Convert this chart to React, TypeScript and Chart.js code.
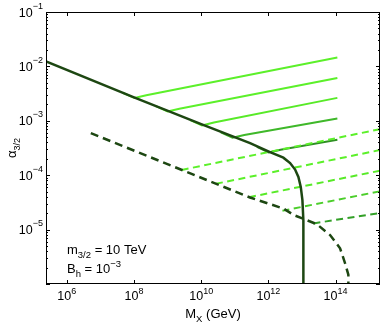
import React, { useEffect, useRef } from 'react';
import { Chart, registerables } from 'chart.js';

Chart.register(...registerables);

// ---- axis ranges and ticks ----
const X_MIN = 2.4e5;
const X_MAX = 2.1e15;
const Y_MIN = 1e-6;
const Y_MAX = 1e-1;
const xTickValues = [1e6, 1e8, 1e10, 1e12, 1e14];
const xTickExponents = ['6', '8', '10', '12', '14'];
const yTickValues = [1e-1, 1e-2, 1e-3, 1e-4, 1e-5];
const yTickExponents = ['\u22121', '\u22122', '\u22123', '\u22124', '\u22125'];
const yMinorMultipliers = [2, 3, 4, 5, 6, 7, 8, 9];
const yDecadeExponents = [-6, -5, -4, -3, -2];

// ---- series (M_X, alpha_3/2) ----
const boundarySolid: [number, number][] = [
  [2.4e5, 1.24e-2], [1e8, 2.7e-3], [1e10, 8.7e-4], [2.85e11, 3.89e-4], [1.12e12, 2.66e-4],
  [2.79e12, 2.1e-4], [4.43e12, 1.67e-4], [6.24e12, 1.27e-4], [7.82e12, 9.27e-5],
  [9.2e12, 6.08e-5], [1.03e13, 3.47e-5], [1.1e13, 1.49e-5], [1.1e13, 1e-6],
];
const boundaryDashed: [number, number][] = [
  [5.18e6, 5.93e-4], [2.85e11, 3.89e-5], [2.79e12, 2.44e-5], [5.82e12, 1.84e-5],
  [2.75e13, 1.26e-5], [6.86e13, 7.94e-6], [1.36e14, 4.53e-6], [1.92e14, 2.4e-6],
  [2.4e14, 1.48e-6], [2.4e14, 1e-6],
];
const solid1: [number, number][] = [[4.62e7, 3.28e-3], [1.035e8, 2.62e-3], [2.32e8, 2.96e-3], [1.13e14, 1.46e-2]];
const solid2: [number, number][] = [[4.48e8, 1.86e-3], [1.0e9, 1.49e-3], [2.24e9, 1.67e-3], [1.13e14, 6.14e-3]];
const solid3: [number, number][] = [[4.74e9, 1.03e-3], [1.06e10, 8.24e-4], [2.38e10, 9.31e-4], [1.13e14, 2.64e-3]];
const solid4: [number, number][] = [[3.83e10, 6.11e-4], [8.57e10, 4.89e-4], [1.92e11, 5.46e-4], [1.13e14, 1.1e-3]];
const solid5: [number, number][] = [[4.57e11, 3.33e-4], [1.02e12, 2.62e-4], [2.29e12, 2.93e-4], [1.13e14, 4.49e-4]];
const dashed1: [number, number][] = [[2.62e9, 1.25e-4], [2.1e15, 7.02e-4]];
const dashed2: [number, number][] = [[2.74e10, 6.95e-5], [2.1e15, 2.9e-4]];
const dashed3: [number, number][] = [[2.65e11, 3.94e-5], [2.1e15, 1.21e-4]];
const dashed4: [number, number][] = [[2.62e12, 2.22e-5], [2.1e15, 5.06e-5]];
const dashed5: [number, number][] = [[2.19e13, 1.3e-5], [2.1e15, 2.02e-5]];

const solidGreens = [solid1, solid2, solid3, solid4, solid5];
const dashedGreens = [dashed1, dashed2, dashed3, dashed4, dashed5];
const solidColors = ['#5cf02a', '#5cf02a', '#58ea28', '#3fb82a', '#2f8f24'];
const dashedColors = ['#5cf02a', '#5cf02a', '#58ea28', '#4cce2b', '#33a028'];
const DARK = '#1d4712';

const FONT = '"Liberation Sans", Arial, Helvetica, sans-serif';
const f = (s: number) => `${s}px ${FONT}`;

const toPts = (arr: [number, number][]) => arr.map(([x, y]) => ({ x, y }));

const framePlugin = {
  id: 'frame',
  afterDatasetsDraw(chart: any) {
    const { ctx, chartArea: a, scales } = chart;
    const xs = scales.x;
    const ys = scales.y;
    ctx.save();
    ctx.strokeStyle = '#000';
    ctx.lineWidth = 1;
    ctx.strokeRect(a.left + 0.5, a.top + 0.5, a.right - a.left - 1, a.bottom - a.top - 1);
    ctx.beginPath();
    for (const v of xTickValues) {
      const px = Math.round(xs.getPixelForValue(v)) + 0.5;
      ctx.moveTo(px, a.bottom);
      ctx.lineTo(px, a.bottom - 4);
      ctx.moveTo(px, a.top);
      ctx.lineTo(px, a.top + 4);
    }
    for (const e of yDecadeExponents) {
      for (const m of [1, ...yMinorMultipliers]) {
        const v = m * Math.pow(10, e);
        if (v < Y_MIN * 0.999 || v > Y_MAX * 1.001) continue;
        const py = Math.round(ys.getPixelForValue(v)) + 0.5;
        const len = m === 1 ? 4 : 2;
        ctx.moveTo(a.left, py);
        ctx.lineTo(a.left + len, py);
        ctx.moveTo(a.right, py);
        ctx.lineTo(a.right - len, py);
      }
    }
    ctx.stroke();

    ctx.fillStyle = '#000';
    ctx.textBaseline = 'alphabetic';
    ctx.textAlign = 'left';
    // x tick labels
    xTickValues.forEach((v, i) => {
      const px = xs.getPixelForValue(v);
      ctx.font = f(12.5);
      const wb = ctx.measureText('10').width;
      ctx.font = f(9);
      const we = ctx.measureText(xTickExponents[i]).width;
      const x0 = px - (wb + we) / 2;
      ctx.font = f(12.5);
      ctx.fillText('10', x0, a.bottom + 16);
      ctx.font = f(9);
      ctx.fillText(xTickExponents[i], x0 + wb, a.bottom + 10);
    });
    // y tick labels
    yTickValues.forEach((v, i) => {
      const py = ys.getPixelForValue(v);
      const right = a.left - 3;
      ctx.font = f(9);
      const we = ctx.measureText(yTickExponents[i]).width;
      ctx.font = f(12.5);
      const wb = ctx.measureText('10').width;
      ctx.fillText('10', right - we - wb, py + 4.5);
      ctx.font = f(9);
      ctx.fillText(yTickExponents[i], right - we, py - 3.5);
    });
    // x title
    {
      ctx.font = f(13);
      const wM = ctx.measureText('M').width;
      const wRest = ctx.measureText(' (GeV)').width;
      ctx.font = f(9.5);
      const wX = ctx.measureText('X').width;
      const total = wM + wX + wRest;
      const x0 = (a.left + a.right) / 2 - total / 2;
      ctx.font = f(13);
      ctx.fillText('M', x0, 318);
      ctx.font = f(9.5);
      ctx.fillText('X', x0 + wM, 322);
      ctx.font = f(13);
      ctx.fillText(' (GeV)', x0 + wM + wX, 318);
    }
    // y title
    {
      ctx.save();
      ctx.translate(16, 158);
      ctx.rotate(-Math.PI / 2);
      ctx.font = f(13);
      ctx.fillText('\u03b1', 0, 0);
      const wa = ctx.measureText('\u03b1').width;
      ctx.font = f(9);
      ctx.fillText('3/2', wa, 3.5);
      ctx.restore();
    }
    // annotations
    {
      let x = 67;
      ctx.font = f(13);
      ctx.fillText('m', x, 254);
      x += ctx.measureText('m').width;
      ctx.font = f(9.5);
      ctx.fillText('3/2', x, 258);
      x += ctx.measureText('3/2').width;
      ctx.font = f(13);
      ctx.fillText(' = 10 TeV', x, 254);

      x = 67;
      ctx.fillText('B', x, 273);
      x += ctx.measureText('B').width;
      ctx.font = f(9.5);
      ctx.fillText('h', x, 277);
      x += ctx.measureText('h').width;
      ctx.font = f(13);
      ctx.fillText(' = 10', x, 273);
      x += ctx.measureText(' = 10').width;
      ctx.font = f(9.5);
      ctx.fillText('\u22123', x, 267);
    }
    ctx.restore();
  },
};

export default function App() {
  const ref = useRef<HTMLCanvasElement | null>(null);
  useEffect(() => {
    if (!ref.current) return;
    const base = { showLine: true, pointRadius: 0, fill: false, clip: 0, tension: 0 };
    const datasets: any[] = [
      { ...base, data: toPts(boundarySolid), borderColor: DARK, borderWidth: 2.5 },
      { ...base, data: toPts(boundaryDashed), borderColor: DARK, borderWidth: 2.5, borderDash: [8, 5] },
      ...dashedGreens.map((d, i) => ({ ...base, data: toPts(d), borderColor: dashedColors[i], borderWidth: 2, borderDash: [7, 4.5] })),
      ...solidGreens.map((d, i) => ({ ...base, data: toPts(d), borderColor: solidColors[i], borderWidth: 2 })),
    ];
    const chart = new Chart(ref.current, {
      type: 'scatter',
      data: { datasets },
      options: {
        animation: false,
        responsive: false,
        devicePixelRatio: 1,
        layout: { padding: { left: 46, top: 12, right: 2, bottom: 44 } },
        plugins: { legend: { display: false }, tooltip: { enabled: false } },
        scales: {
          x: { type: 'logarithmic', min: X_MIN, max: X_MAX, display: false },
          y: { type: 'logarithmic', min: Y_MIN, max: Y_MAX, display: false },
        },
      },
      plugins: [framePlugin],
    });
    return () => chart.destroy();
  }, []);
  return (
    <div style={{ position: 'fixed', left: 0, top: 0, width: 382, height: 328, background: '#fff' }}>
      <canvas ref={ref} width={382} height={328} style={{ display: 'block' }} />
    </div>
  );
}
